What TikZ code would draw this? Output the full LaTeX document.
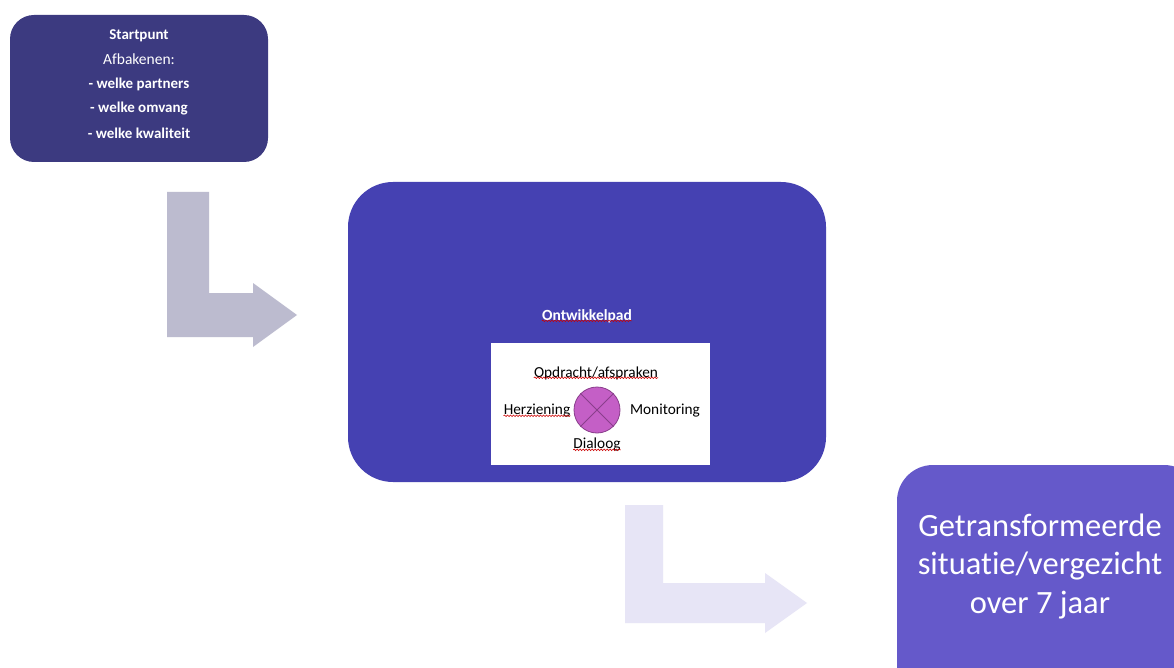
\documentclass[tikz,border=0pt]{standalone}
\usepackage{fontspec}
\setmainfont[Ligatures=NoCommon]{Carlito}
\usetikzlibrary{decorations.pathmorphing}
\definecolor{startc}{HTML}{3C3A80}
\definecolor{ontwc}{HTML}{4541B2}
\definecolor{endc}{HTML}{6559CA}
\definecolor{arrA}{HTML}{BCBBCF}
\definecolor{arrB}{HTML}{E7E5F6}
\definecolor{circc}{HTML}{C45FC6}
\definecolor{circd}{HTML}{8A3E8C}
\tikzset{
  lbl/.style={font=\fontsize{15.3}{17}\selectfont, inner sep=0pt},
  wlbl/.style={font=\bfseries\fontsize{15}{17}\selectfont, inner sep=0pt, text=white},
  spell/.style={red!80!black, line width=0.6pt, decorate, decoration={snake, amplitude=0.8pt, segment length=3pt}}
}
\begin{document}
\begin{tikzpicture}[x=1pt,y=-1pt]
\useasboundingbox (0,0) rectangle (1174,668);
\fill[white] (0,0) rectangle (1174,668);
% arrows
\fill[arrA] (167,192) -- (209,192) -- (209,293) -- (253,293) -- (253,283) -- (297,315) -- (253,347) -- (253,337) -- (167,337) -- cycle;
\fill[arrB] (625,505) -- (663,505) -- (663,583) -- (765,583) -- (765,573) -- (807,603) -- (765,633) -- (765,623) -- (625,623) -- cycle;
% boxes
\fill[startc, rounded corners=24pt] (10,15) rectangle (268,162);
\fill[ontwc, rounded corners=45pt] (348,182) rectangle (826,482);
\fill[endc, rounded corners=36pt] (897,465) rectangle (1200,700);
\fill[white] (491,343) rectangle (710,465);
% start texts
\node[wlbl] (s1) at (139,36) {Startpunt};
\node[wlbl, font=\fontsize{15.5}{17}\selectfont] (s2) at (139,59) {Afbakenen:};
\node[wlbl] (s3) at (139,84) {- welke partners};
\node[wlbl] (s4) at (139,109) {- welke omvang};
\node[wlbl] (s5) at (139,133) {- welke kwaliteit};
% ontwikkelpad
\node[wlbl, font=\bfseries\fontsize{15.5}{17}\selectfont] (ow) at (587,316) {Ontwikkelpad};
\draw[spell] ([yshift=2pt]ow.south west) -- ([yshift=2pt]ow.south east);
% circle
\node[circle, draw=circd, fill=circc, minimum size=46pt, inner sep=0pt, line width=0.8pt] (c) at (597,410) {};
\draw[circd, line width=0.8pt] (c.north west) -- (c.south east);
\draw[circd, line width=0.8pt] (c.north east) -- (c.south west);
\node[lbl] (op) at (596,373) {Opdracht/afspraken};
\node[lbl] (hz) at (537,411) {Herziening};
\node[lbl] (mo) at (665,411) {Monitoring};
\node[lbl] (di) at (597,445) {Dialoog};
\draw[spell] ([yshift=2pt]op.south west) -- ([yshift=2pt]op.south east);
\draw[spell] ([yshift=2pt]hz.south west) -- ([yshift=2pt]hz.south east);
\draw[spell] ([yshift=2pt]di.south west) -- ([yshift=2pt]di.south east);
% end
\node[text=white, font=\fontsize{32.5}{38.5}\selectfont, align=center, inner sep=0pt] (end) at (1040,566) {Getransformeerde\\situatie/vergezicht\\over 7 jaar};
\end{tikzpicture}
\end{document}
